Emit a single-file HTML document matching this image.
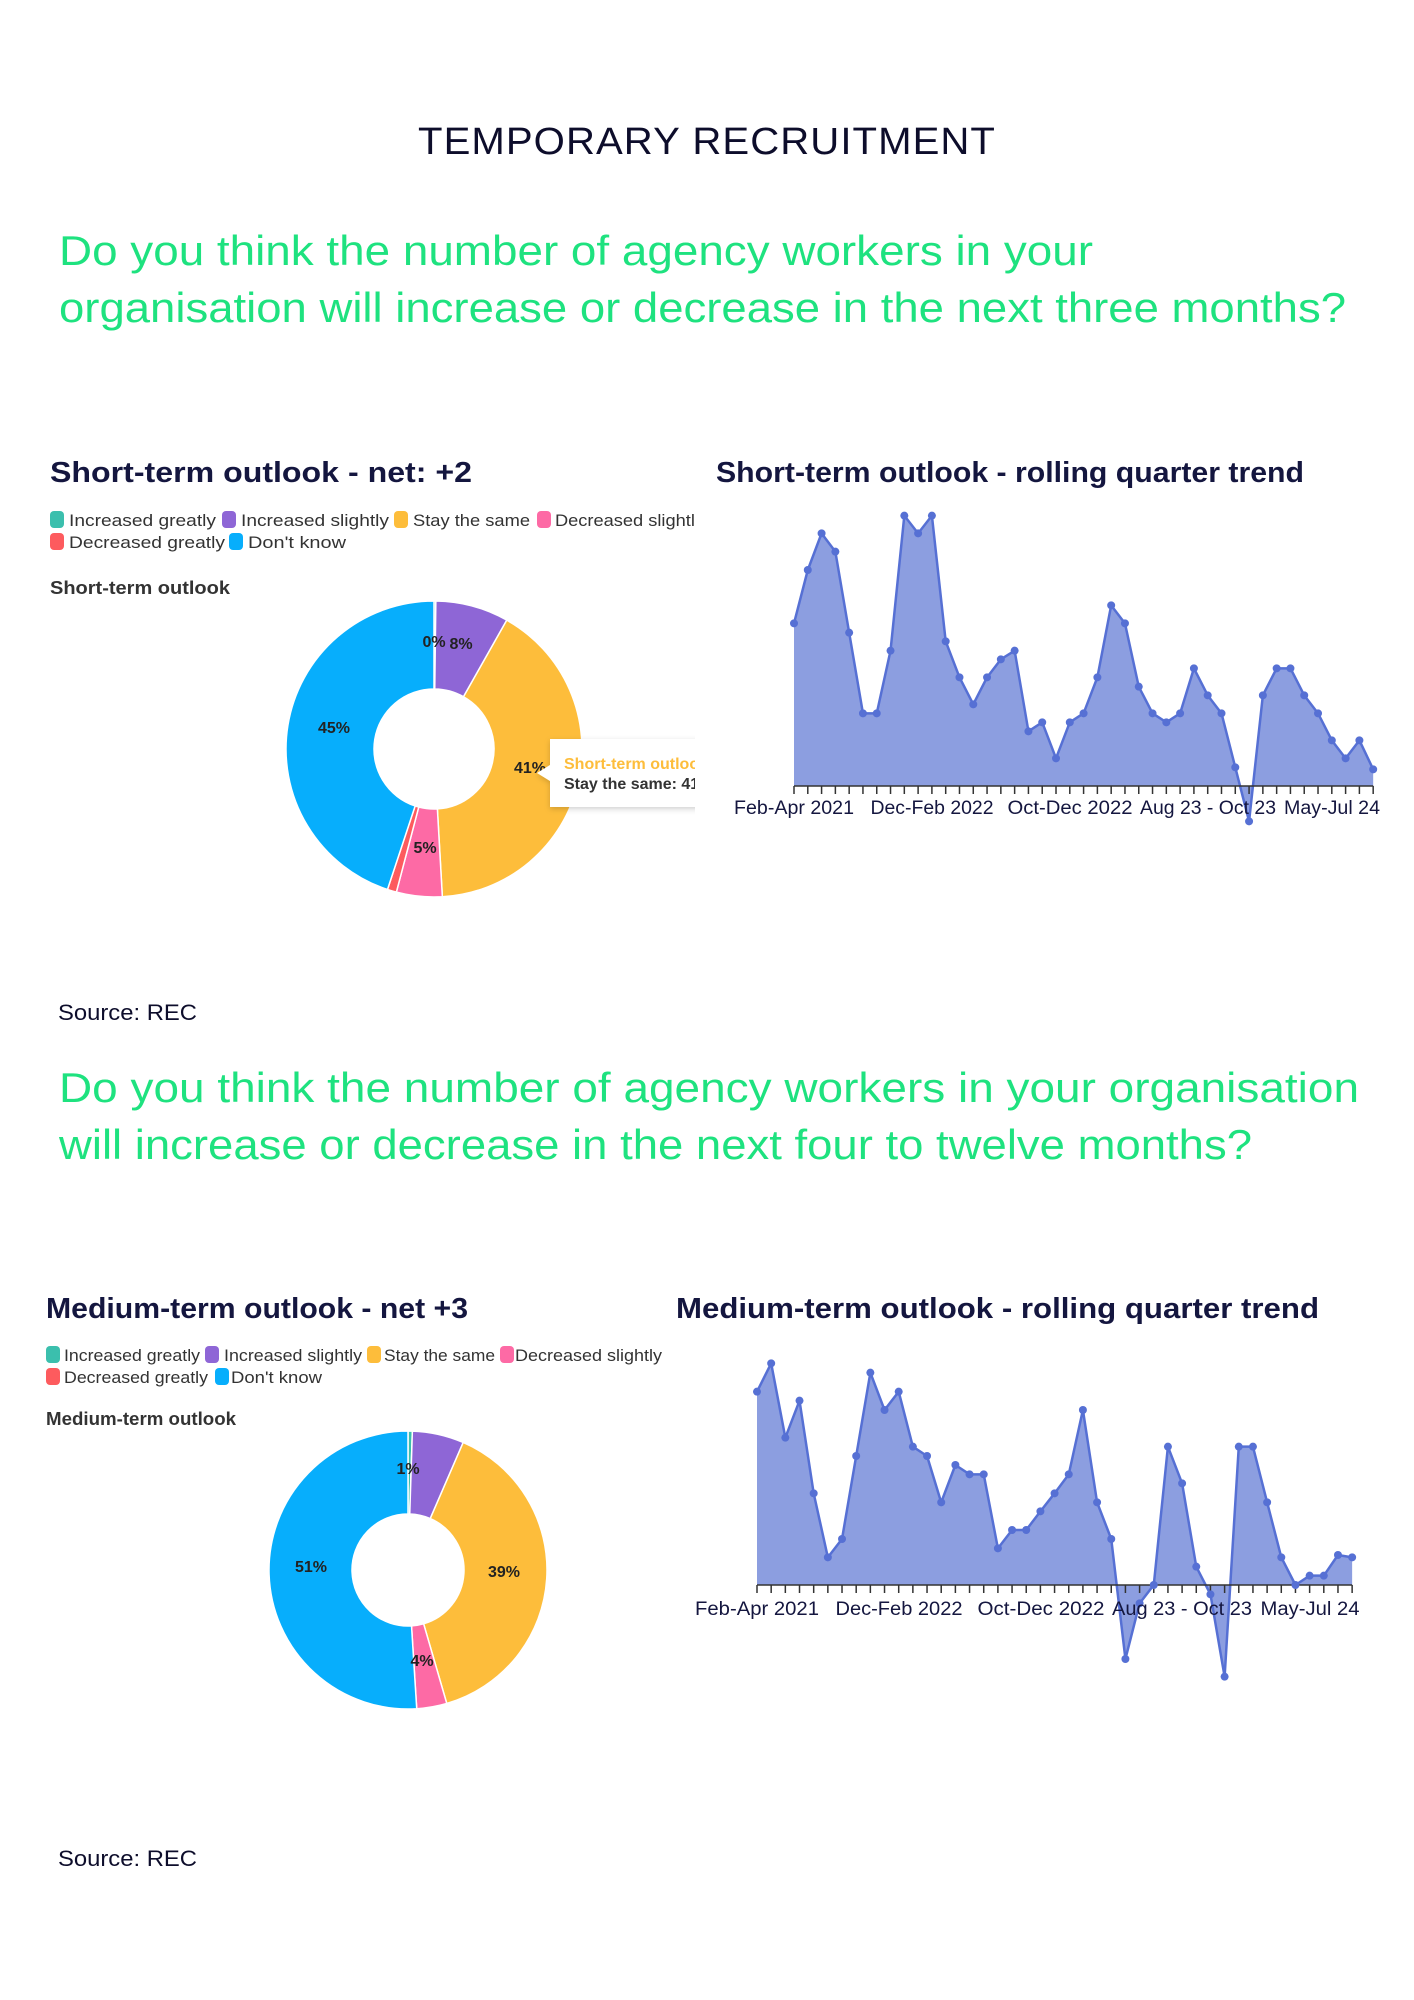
<!DOCTYPE html>
<html><head><meta charset="utf-8"><style>
html,body{margin:0;padding:0;background:#fff;}
svg{display:block}
text{font-family:"Liberation Sans",sans-serif;}
</style></head><body>
<svg id="s" width="1414" height="2000" viewBox="0 0 1414 2000" xmlns="http://www.w3.org/2000/svg">
<defs>
<clipPath id="c1"><rect x="0" y="380" width="695" height="600"/></clipPath>
<filter id="sh" x="-20%" y="-30%" width="140%" height="160%"><feDropShadow dx="0" dy="2" stdDeviation="3" flood-color="#000" flood-opacity="0.18"/></filter>
</defs>
<text x="707" y="154" text-anchor="middle" font-size="38" fill="#0d0d2b" textLength="578" lengthAdjust="spacingAndGlyphs" letter-spacing="1">TEMPORARY RECRUITMENT</text>
<g fill="#1ee27f" font-size="42">
<text x="59" y="265" textLength="1034" lengthAdjust="spacingAndGlyphs">Do you think the number of agency workers in your</text>
<text x="59" y="322" textLength="1287" lengthAdjust="spacingAndGlyphs">organisation will increase or decrease in the next three months?</text>
<text x="59" y="1102" textLength="1300" lengthAdjust="spacingAndGlyphs">Do you think the number of agency workers in your organisation</text>
<text x="59" y="1159" textLength="1193" lengthAdjust="spacingAndGlyphs">will increase or decrease in the next four to twelve months?</text>
</g>
<g fill="#0d0d2b" font-size="22">
<text x="58" y="1020" textLength="139" lengthAdjust="spacingAndGlyphs">Source: REC</text>
<text x="58" y="1866" textLength="139" lengthAdjust="spacingAndGlyphs">Source: REC</text>
</g>
<g fill="#14163f" font-weight="bold" font-size="29">
<text x="50" y="482" textLength="422" lengthAdjust="spacingAndGlyphs">Short-term outlook - net: +2</text>
<text x="716" y="482" textLength="588" lengthAdjust="spacingAndGlyphs">Short-term outlook - rolling quarter trend</text>
<text x="46" y="1318" textLength="422" lengthAdjust="spacingAndGlyphs">Medium-term outlook - net +3</text>
<text x="676" y="1318" textLength="643" lengthAdjust="spacingAndGlyphs">Medium-term outlook - rolling quarter trend</text>
</g>
<g fill="#333" font-weight="bold" font-size="18">
<text x="50" y="594" textLength="180" lengthAdjust="spacingAndGlyphs">Short-term outlook</text>
<text x="46" y="1425" textLength="190" lengthAdjust="spacingAndGlyphs">Medium-term outlook</text>
</g>
<g id="leg" font-size="17" fill="#333"></g>
<g id="charts"></g>
</svg>
<script>
var NS="http://www.w3.org/2000/svg",S=document.getElementById('s');
function el(t,a,p,txt){var e=document.createElementNS(NS,t);for(var k in a)e.setAttribute(k,a[k]);if(txt!==undefined)e.textContent=txt;(p||S).appendChild(e);return e;}
var C={ig:"#3bbfad",is:"#8e66d6",st:"#fdbd3b",ds:"#fd6aa5",dg:"#fd5b5e",dk:"#07aefc"};
var leg=document.getElementById('leg');
var g1=el('g',{'clip-path':'url(#c1)'},leg);
function li(p,sx,tx,te,y,c,t){el('rect',{x:sx,y:y-9,width:14,height:17,rx:4,fill:c},p);el('text',{x:tx,y:y+6,textLength:te-tx,lengthAdjust:'spacingAndGlyphs'},p,t);}
li(g1,50,69,216,520,C.ig,"Increased greatly");
li(g1,222,241,389,520,C.is,"Increased slightly");
li(g1,394,413,530,520,C.st,"Stay the same");
li(g1,537,555,704,520,C.ds,"Decreased slightly");
li(g1,50,69,225,542,C.dg,"Decreased greatly");
li(g1,229,248,346,542,C.dk,"Don't know");
li(leg,46,64,200,1355,C.ig,"Increased greatly");
li(leg,205,224,362,1355,C.is,"Increased slightly");
li(leg,367,384,495,1355,C.st,"Stay the same");
li(leg,500,515,662,1355,C.ds,"Decreased slightly");
li(leg,46,64,208,1377,C.dg,"Decreased greatly");
li(leg,215,231,322,1377,C.dk,"Don't know");

var ch=document.getElementById('charts');
function donut(cx,cy,R,r,segs,parent){
 var tot=0;segs.forEach(function(s){tot+=s[0];});var a=0;
 segs.forEach(function(s){var a0=a,a1=a+s[0]/tot*2*Math.PI;a=a1;if(s[0]<=0)return;
  function P(rr,an){return [cx+rr*Math.sin(an),cy-rr*Math.cos(an)];}
  var p1=P(R,a0),p2=P(R,a1),p3=P(r,a1),p4=P(r,a0),lg=(a1-a0)>Math.PI?1:0;
  el('path',{d:'M'+p1+' A'+R+' '+R+' 0 '+lg+' 1 '+p2+' L'+p3+' A'+r+' '+r+' 0 '+lg+' 0 '+p4+'Z',fill:s[1],stroke:'#fff','stroke-width':1.5},parent);});
}
var g2=el('g',{'clip-path':'url(#c1)'},ch);
donut(434,749,148,60,[[0.2,C.ig],[8,C.is],[41,C.st],[5,C.ds],[1,C.dg],[45,C.dk]],g2);
var lbl=[["0%",434,647],["8%",461,649],["45%",334,733],["41%",530,773],["5%",425,853]];
lbl.forEach(function(l){el('text',{x:l[1],y:l[2],'text-anchor':'middle','font-size':16,'font-weight':'bold',fill:'#222'},g2,l[0]);});
el('path',{d:'M550 739 H720 V807 H550 V781 L537 773 L550 765 Z',fill:'#fff',filter:'url(#sh)'},g2);
el('text',{x:564,y:769,'font-size':16,'font-weight':'bold',fill:'#fdbd3b'},g2,"Short-term outlook");
el('text',{x:564,y:789,'font-size':16,'font-weight':'bold',fill:'#333'},g2,"Stay the same: 41%");
donut(408,1570,139,56,[[0.5,C.ig],[6,C.is],[39,C.st],[3.5,C.ds],[0,C.dg],[51,C.dk]],ch);
[["1%",408,1474],["51%",311,1572],["39%",504,1577],["4%",422,1666]].forEach(function(l){el('text',{x:l[1],y:l[2],'text-anchor':'middle','font-size':16,'font-weight':'bold',fill:'#222'},ch,l[0]);});

function trend(oy,fy,rx0,rdx,base,ys,labY,labs){
 var pts=ys.map(function(v,i){return [rx0+i*rdx,oy+v/fy];});
 var by=oy+base/fy,xa=pts[0][0],xb=pts[pts.length-1][0];
 var d='M'+xa+' '+by;pts.forEach(function(p){d+=' L'+p[0]+' '+p[1];});d+=' L'+xb+' '+by+'Z';
 el('path',{d:d,fill:'#8c9ee0'},ch);
 el('polyline',{points:pts.map(function(p){return p.join(',');}).join(' '),fill:'none',stroke:'#5670d4','stroke-width':2.5,'stroke-linejoin':'round'},ch);
 el('line',{x1:xa,y1:by,x2:xb,y2:by,stroke:'#333','stroke-width':1.5},ch);
 pts.forEach(function(p){el('line',{x1:p[0],y1:by,x2:p[0],y2:by+8,stroke:'#333','stroke-width':1.5},ch);});
 pts.forEach(function(p){el('circle',{cx:p[0],cy:p[1],r:4,fill:'#5670d4'},ch);});
 labs.forEach(function(l){el('text',{x:l[0],y:labY,'text-anchor':'middle','font-size':19,fill:'#14163f',textLength:l[2],lengthAdjust:'spacingAndGlyphs'},ch,l[1]);});
}
trend(400,3,794,13.79,1158,[670,510,400,455,698,940,940,752,347,400,347,724,832,913,832,778,752,994,967,1075,967,940,832,616,670,860,940,967,940,805,886,940,1102,1264,886,805,805,886,940,1021,1075,1021,1108],814,
 [[794,"Feb-Apr 2021",120],[932,"Dec-Feb 2022",123],[1070,"Oct-Dec 2022",125],[1208,"Aug 23 - Oct 23",136],[1332,"May-Jul 24",96]]);
trend(1280,3,757,14.17,915,[335,250,473,362,640,832,777,528,278,390,335,500,528,667,555,583,583,805,750,750,694,640,583,390,667,777,1137,970,915,500,610,860,943,1190,500,500,667,832,915,887,887,825,832],1615,
 [[757,"Feb-Apr 2021",124],[899,"Dec-Feb 2022",127],[1041,"Oct-Dec 2022",127],[1182,"Aug 23 - Oct 23",140],[1310,"May-Jul 24",99]]);
</script>
</body></html>
